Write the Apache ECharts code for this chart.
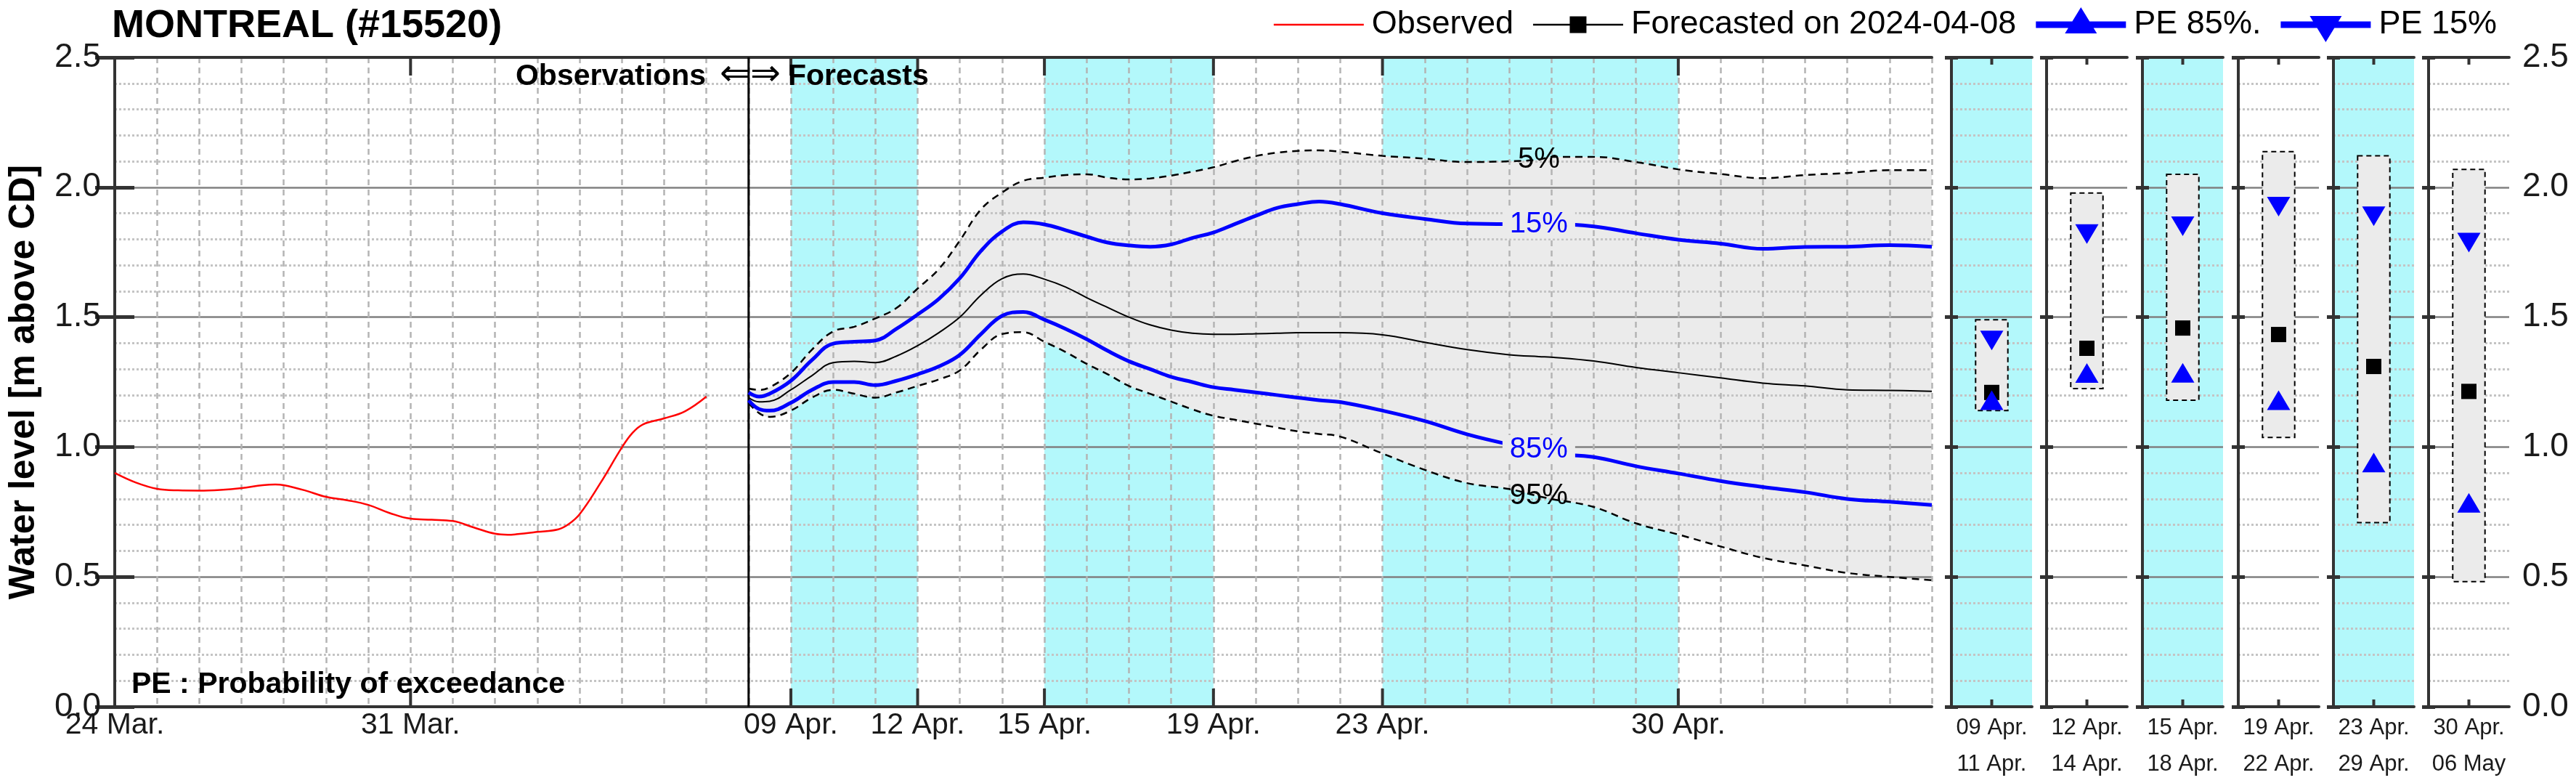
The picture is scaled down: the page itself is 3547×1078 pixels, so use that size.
<!DOCTYPE html>
<html><head><meta charset="utf-8">
<script src="https://cdn.jsdelivr.net/npm/echarts@6/dist/echarts.min.js"></script>
<style>html,body{margin:0;padding:0;background:#fff}#c{width:3547px;height:1078px}</style>
</head><body><div id="c"></div>
<script>
const FONT = "'Liberation Sans', Arial, Helvetica, sans-serif";

// ---- x values are days since 24 Mar 2024 00:00 ----
const tickDays = [0, 7, 16, 19, 22, 26, 30, 37];
const tickLabels = ['24 Mar.', '31 Mar.', '09 Apr.', '12 Apr.', '15 Apr.', '19 Apr.', '23 Apr.', '30 Apr.'];
const xRange = [0, 43];
const yRange = [0, 2.5];
const forecastStartDay = 15;
const bandStart = [16, 22, 30];
const bandEnd = [19, 26, 37];

// Observed
const obsT = [0,0.5,1,1.5,2,2.5,3,3.5,3.8,4,4.5,5,5.5,6,6.5,7,7.5,8,8.5,9,9.3,9.5,10,10.5,10.75,11,11.5,12,12.25,12.5,13,13.5,14];
const obsV = [0.90,0.863,0.839,0.833,0.832,0.835,0.842,0.853,0.856,0.853,0.833,0.808,0.795,0.777,0.746,0.724,0.72,0.715,0.69,0.666,0.662,0.664,0.673,0.683,0.704,0.741,0.863,0.998,1.054,1.087,1.11,1.138,1.194];

// Forecast (issued 2024-04-08)
const fcT = [15,15.25,15.5,16,16.5,17,17.5,18,18.5,19,19.5,20,20.5,21,21.5,22,22.5,23,23.5,24,24.5,25,25.5,26,26.5,27,27.5,28,28.5,29,30,31,32,33,33.7,34,35,36,37,38,39,40,41,42,43];
const fcP05 = [1.225,1.22,1.23,1.285,1.375,1.445,1.463,1.495,1.535,1.61,1.685,1.795,1.915,1.98,2.025,2.037,2.047,2.05,2.037,2.03,2.034,2.045,2.06,2.077,2.10,2.12,2.133,2.14,2.142,2.137,2.121,2.11,2.097,2.10,2.106,2.117,2.117,2.097,2.069,2.051,2.035,2.047,2.055,2.066,2.066];
const fcP15 = [1.21,1.194,1.205,1.255,1.335,1.398,1.405,1.41,1.455,1.51,1.57,1.65,1.755,1.83,1.865,1.857,1.835,1.81,1.787,1.776,1.771,1.78,1.805,1.826,1.858,1.89,1.92,1.935,1.945,1.935,1.90,1.878,1.86,1.858,1.858,1.858,1.849,1.823,1.798,1.783,1.763,1.77,1.771,1.777,1.771];
const fcMed = [1.19,1.174,1.176,1.22,1.275,1.325,1.33,1.325,1.35,1.39,1.44,1.50,1.585,1.648,1.666,1.646,1.616,1.575,1.537,1.50,1.47,1.45,1.438,1.434,1.434,1.436,1.438,1.44,1.44,1.44,1.432,1.403,1.375,1.355,1.348,1.346,1.331,1.306,1.286,1.266,1.246,1.235,1.22,1.218,1.214];
const fcP85 = [1.18,1.146,1.14,1.17,1.22,1.25,1.25,1.238,1.255,1.28,1.31,1.355,1.435,1.505,1.52,1.49,1.455,1.415,1.37,1.33,1.30,1.27,1.25,1.23,1.22,1.21,1.20,1.19,1.18,1.173,1.14,1.10,1.049,1.01,0.99,0.975,0.961,0.926,0.898,0.869,0.846,0.826,0.80,0.789,0.777];
const fcP95 = [1.17,1.13,1.116,1.14,1.19,1.22,1.205,1.19,1.21,1.235,1.26,1.295,1.375,1.435,1.442,1.405,1.366,1.32,1.28,1.235,1.205,1.175,1.145,1.12,1.105,1.09,1.075,1.06,1.05,1.04,0.975,0.912,0.861,0.838,0.81,0.80,0.769,0.706,0.663,0.617,0.573,0.544,0.515,0.50,0.487];
const pctLabelDay = 33.7;

// Period panels
const periodLabels = ['09 Apr.\n11 Apr.', '12 Apr.\n14 Apr.', '15 Apr.\n18 Apr.', '19 Apr.\n22 Apr.', '23 Apr.\n29 Apr.', '30 Apr.\n06 May'];
const panelP05 = [1.49, 1.978, 2.05, 2.137, 2.121, 2.069];
const panelP95 = [1.14, 1.225, 1.18, 1.037, 0.709, 0.482];
const panelMed = [1.21, 1.38, 1.458, 1.433, 1.31, 1.214];
const panelP15 = [1.41, 1.82, 1.85, 1.925, 1.888, 1.787];
const panelP85 = [1.18, 1.285, 1.286, 1.18, 0.94, 0.785];

// ---- styles / layout ----
const CYAN = '#b3f8fb', FILL = '#ebebeb', FRAME = '#333333', TXT = '#1a1a1a';
const GRID_TOP = 79, GRID_H = 894;
const panelLeft = [2687, 2818, 2950, 3082, 3213, 3344];
const PANEL_W = 111;

const majorSplit = {show: true, lineStyle: {color: '#808080', width: 2.5, type: 'solid'}};
const minorSplit = {show: true, lineStyle: {color: '#c4c4c4', width: 3, type: [3, 3]}};

const grids = [{left: 154, top: GRID_TOP, width: 2506, height: GRID_H, show: false}];
panelLeft.forEach((l, i) => grids.push({left: l, top: GRID_TOP, width: PANEL_W, height: GRID_H,
  show: true, borderWidth: 0, backgroundColor: i % 2 === 0 ? CYAN : '#ffffff'}));

const xAxes = [], yAxes = [];
// main
xAxes.push({type: 'value', gridIndex: 0, min: xRange[0], max: xRange[1], interval: 1, z: 3,
  axisLine: {show: true, onZero: false, lineStyle: {color: FRAME, width: 4}},
  axisTick: {show: false},
  axisLabel: {show: true, fontSize: 41, color: TXT, margin: 3, lineHeight: 46, fontFamily: FONT,
    formatter: v => { const k = tickDays.indexOf(v); return k >= 0 ? tickLabels[k] : ''; }},
  splitLine: {show: true, lineStyle: {color: '#b4b4b4', width: 2.5, type: [8, 6]}}});
xAxes.push({type: 'value', gridIndex: 0, min: xRange[0], max: xRange[1], position: 'top', z: 3,
  axisLine: {show: true, onZero: false, lineStyle: {color: FRAME, width: 4}},
  axisTick: {show: false}, axisLabel: {show: false}, splitLine: {show: false}});
yAxes.push({type: 'value', gridIndex: 0, min: yRange[0], max: yRange[1], interval: 0.5, z: 3,
  name: 'Water level [m above CD]', nameLocation: 'middle', nameGap: 100,
  nameTextStyle: {fontSize: 50, fontWeight: 'bold', color: '#000', fontFamily: FONT},
  axisLine: {show: true, lineStyle: {color: FRAME, width: 4}},
  axisTick: {show: true, inside: true, length: 27, lineStyle: {color: FRAME, width: 5}},
  axisLabel: {fontSize: 46, color: TXT, margin: 19, fontFamily: FONT, formatter: v => v.toFixed(1)},
  splitLine: majorSplit, minorTick: {show: false, splitNumber: 5}, minorSplitLine: minorSplit});
yAxes.push({type: 'value', gridIndex: 0, min: yRange[0], max: yRange[1], interval: 0.5, position: 'right', z: 3,
  axisLine: {show: true, lineStyle: {color: FRAME, width: 4}},
  axisTick: {show: true, inside: true, length: 27, lineStyle: {color: FRAME, width: 5}},
  axisLabel: {show: false}, splitLine: {show: false}});
// panels
panelLeft.forEach((l, i) => {
  const g = i + 1;
  xAxes.push({type: 'value', gridIndex: g, min: 0, max: 1, interval: 0.5, z: 3,
    axisLine: {show: true, onZero: false, lineStyle: {color: FRAME, width: 4}},
    axisTick: {show: false}, splitLine: {show: false},
    axisLabel: {show: true, fontSize: 31, lineHeight: 50, margin: 4, color: TXT, fontFamily: FONT,
      formatter: v => (v === 0.5 ? periodLabels[i] : '')}});
  xAxes.push({type: 'value', gridIndex: g, min: 0, max: 1, position: 'top', z: 3,
    axisLine: {show: true, onZero: false, lineStyle: {color: FRAME, width: 4}},
    axisTick: {show: false}, axisLabel: {show: false}, splitLine: {show: false}});
  yAxes.push({type: 'value', gridIndex: g, min: yRange[0], max: yRange[1], interval: 0.5, z: 3,
    axisLine: {show: true, lineStyle: {color: FRAME, width: 4}},
    axisTick: {show: true, inside: true, length: 9, lineStyle: {color: FRAME, width: 5}},
    axisLabel: {show: false},
    splitLine: majorSplit, minorTick: {show: false, splitNumber: 5}, minorSplitLine: minorSplit});
  yAxes.push({type: 'value', gridIndex: g, min: yRange[0], max: yRange[1], interval: 0.5, position: 'right', z: 3,
    axisLine: {show: true, lineStyle: {color: FRAME, width: 4}},
    axisTick: {show: true, inside: true, length: 9, lineStyle: {color: FRAME, width: 5}},
    axisLabel: {show: i === panelLeft.length - 1, fontSize: 46, color: TXT, margin: 18, fontFamily: FONT,
      formatter: v => v.toFixed(1)},
    splitLine: {show: false}});
});

function tickRenderer(len) {
  return function (params, api) {
    const x = api.coord([api.value(0), 0])[0];
    const cs = params.coordSys;
    const st = {stroke: FRAME, lineWidth: 4};
    return {type: 'group', children: [
      {type: 'line', shape: {x1: x, y1: cs.y + cs.height, x2: x, y2: cs.y + cs.height - len}, style: st},
      {type: 'line', shape: {x1: x, y1: cs.y, x2: x, y2: cs.y + len}, style: st}
    ]};
  };
}

const pair = (ts, vs) => ts.map((t, i) => [t, vs[i]]);
const li = fcT.indexOf(pctLabelDay);
const SM = 0.4;
function pctMark(vals, text, color, bg) {
  return {symbol: 'circle', symbolSize: 1, itemStyle: {color: 'rgba(0,0,0,0)'}, silent: true,
    label: {show: true, position: 'inside', formatter: text, fontSize: 40, color: color, fontFamily: FONT,
      backgroundColor: bg || 'transparent', padding: [0, 10]},
    data: [{coord: [fcT[li], vals[li]]}]};
}

const series = [];
// cyan period bands
series.push({type: 'custom', xAxisIndex: 0, yAxisIndex: 0, z: 1, silent: true,
  data: bandStart.map((s, i) => [s, bandEnd[i]]), encode: {x: [0, 1]},
  renderItem: (params, api) => {
    const cs = params.coordSys;
    const x1 = api.coord([api.value(0), 0])[0], x2 = api.coord([api.value(1), 0])[0];
    return {type: 'rect', shape: {x: x1, y: cs.y, width: x2 - x1, height: cs.height}, style: {fill: CYAN}};
  }});
// 5-95 band fill: stacked on the y dimension (y stored first so it is the stacked dimension)
series.push({type: 'line', name: 'base95', xAxisIndex: 0, yAxisIndex: 0, z: 2, stack: 'band', smooth: SM,
  symbol: 'none', lineStyle: {opacity: 0}, silent: true, encode: {x: 1, y: 0},
  data: fcT.map((t, i) => [fcP95[i], t])});
series.push({type: 'line', name: 'fill', xAxisIndex: 0, yAxisIndex: 0, z: 2, stack: 'band', smooth: SM,
  symbol: 'none', lineStyle: {opacity: 0}, areaStyle: {color: FILL, opacity: 1}, silent: true, encode: {x: 1, y: 0},
  data: fcT.map((t, i) => [+(fcP05[i] - fcP95[i]).toFixed(4), t])});
// divider obs / forecast
series.push({type: 'custom', xAxisIndex: 0, yAxisIndex: 0, z: 4, silent: true,
  data: [[forecastStartDay, 0]], encode: {x: 0, y: 1},
  renderItem: (params, api) => {
    const cs = params.coordSys; const x = api.coord([api.value(0), 0])[0];
    return {type: 'line', shape: {x1: x, y1: cs.y, x2: x, y2: cs.y + cs.height}, style: {stroke: '#000', lineWidth: 3}};
  }});
// lines
series.push({type: 'line', name: 'obs', xAxisIndex: 0, yAxisIndex: 0, z: 4, smooth: SM, symbol: 'none',
  lineStyle: {color: '#ff0000', width: 2.5}, data: pair(obsT, obsV)});
series.push({type: 'line', name: 'p05', xAxisIndex: 0, yAxisIndex: 0, z: 4, smooth: SM, symbol: 'none',
  lineStyle: {color: '#000', width: 2.5, type: [10, 7]}, data: pair(fcT, fcP05),
  markPoint: pctMark(fcP05, '5%', '#000')});
series.push({type: 'line', name: 'p95', xAxisIndex: 0, yAxisIndex: 0, z: 4, smooth: SM, symbol: 'none',
  lineStyle: {color: '#000', width: 2.5, type: [10, 7]}, data: pair(fcT, fcP95),
  markPoint: pctMark(fcP95, '95%', '#000')});
series.push({type: 'line', name: 'med', xAxisIndex: 0, yAxisIndex: 0, z: 4, smooth: SM, symbol: 'none',
  lineStyle: {color: '#000', width: 2}, data: pair(fcT, fcMed)});
series.push({type: 'line', name: 'p85', xAxisIndex: 0, yAxisIndex: 0, z: 4, smooth: SM, symbol: 'none',
  lineStyle: {color: '#0000ff', width: 5}, data: pair(fcT, fcP85),
  markPoint: pctMark(fcP85, '85%', '#0000ff', FILL)});
series.push({type: 'line', name: 'p15', xAxisIndex: 0, yAxisIndex: 0, z: 4, smooth: SM, symbol: 'none',
  lineStyle: {color: '#0000ff', width: 5}, data: pair(fcT, fcP15),
  markPoint: pctMark(fcP15, '15%', '#0000ff', FILL)});
// date ticks on main
series.push({type: 'custom', xAxisIndex: 0, yAxisIndex: 0, z: 5, silent: true,
  data: tickDays.map(d => [d, 0]), encode: {x: 0, y: 1}, renderItem: tickRenderer(25)});

// panels
panelLeft.forEach((l, i) => {
  const xa = 2 + 2 * i, ya = 2 + 2 * i;
  series.push({type: 'custom', xAxisIndex: xa, yAxisIndex: ya, z: 4, silent: true,
    data: [[0.5, panelP95[i], panelP05[i]]], encode: {x: 0, y: [1, 2]},
    renderItem: (params, api) => {
      const hw = 0.2;
      const p1 = api.coord([api.value(0) - hw, api.value(2)]);
      const p2 = api.coord([api.value(0) + hw, api.value(1)]);
      return {type: 'rect', shape: {x: p1[0], y: p1[1], width: p2[0] - p1[0], height: p2[1] - p1[1]},
        style: {fill: FILL, stroke: '#000', lineWidth: 2, lineDash: [7, 5]}};
    }});
  series.push({type: 'scatter', xAxisIndex: xa, yAxisIndex: ya, z: 5, symbol: 'rect', symbolSize: 21,
    itemStyle: {color: '#000', opacity: 1}, data: [[0.5, panelMed[i]]]});
  series.push({type: 'scatter', xAxisIndex: xa, yAxisIndex: ya, z: 5, symbol: 'triangle', symbolSize: [32, 27],
    symbolRotate: 180, itemStyle: {color: '#0000ff', opacity: 1}, data: [[0.5, panelP15[i]]]});
  series.push({type: 'scatter', xAxisIndex: xa, yAxisIndex: ya, z: 5, symbol: 'triangle', symbolSize: [32, 27],
    itemStyle: {color: '#0000ff', opacity: 1}, data: [[0.5, panelP85[i]]]});
  series.push({type: 'custom', xAxisIndex: xa, yAxisIndex: ya, z: 5, silent: true,
    data: [[0.5, 0]], encode: {x: 0, y: 1}, renderItem: tickRenderer(10)});
});

// legend-only series
const legendNames = ['Observed', 'Forecasted on 2024-04-08', 'PE 85%.', 'PE 15%'];
const legendColors = ['#ff0000', '#000000', '#0000ff', '#0000ff'];
const legendIcons = [
  'path://M0,0H124V2.5H0Z',
  'path://M0,10.25H124V12.75H0Z M50.5,0H73.5V23H50.5Z',
  'path://M0,19.5H124V28.5H0Z M62,0L84,36L40,36Z M62,48',
  'path://M0,7.5H124V16.5H0Z M40,0L84,0L62,36Z M62,-12'
];
legendNames.forEach((n, i) => series.push({type: 'line', name: n, xAxisIndex: 0, yAxisIndex: 0,
  data: [], color: legendColors[i], lineStyle: {color: legendColors[i]}}));

const option = {
  animation: false,
  backgroundColor: '#ffffff',
  textStyle: {fontFamily: FONT},
  title: {text: 'MONTREAL (#15520)', left: 154, top: 9, padding: 0,
    textStyle: {fontSize: 54, fontWeight: 'bold', color: '#000', fontFamily: FONT}},
  legend: {right: 109, top: 10, padding: 0, itemWidth: 124, itemHeight: 48, itemGap: 27, selectedMode: false,
    itemStyle: {borderWidth: 0},
    textStyle: {fontSize: 45, color: '#000', fontFamily: FONT, padding: [0, 0, 0, 6]},
    data: legendNames.map((n, i) => ({name: n, icon: legendIcons[i], itemStyle: {color: legendColors[i], borderWidth: 0}}))},
  grid: grids,
  xAxis: xAxes,
  yAxis: yAxes,
  series: series,
  graphic: [
    {type: 'text', x: 972, y: 106, z: 10, silent: true,
      style: {text: 'Observations', fontSize: 41, fontWeight: 'bold', fontFamily: FONT, fill: '#000', align: 'right', verticalAlign: 'middle'}},
    {type: 'text', x: 1033, y: 104, z: 10, silent: true,
      style: {text: '\u21D0\u21D2', fontSize: 50, fontFamily: "'DejaVu Sans', sans-serif", fill: '#000', align: 'center', verticalAlign: 'middle'}},
    {type: 'text', x: 1085, y: 106, z: 10, silent: true,
      style: {text: 'Forecasts', fontSize: 41, fontWeight: 'bold', fontFamily: FONT, fill: '#000', align: 'left', verticalAlign: 'middle'}},
    {type: 'text', x: 181, y: 943, z: 10, silent: true,
      style: {text: 'PE : Probability of exceedance', fontSize: 41, fontWeight: 'bold', fontFamily: FONT, fill: '#000', align: 'left', verticalAlign: 'middle'}}
  ]
};

const chart = echarts.init(document.getElementById('c'), null, {renderer: 'canvas', width: 3547, height: 1078});
chart.setOption(option);
</script>
</body></html>
